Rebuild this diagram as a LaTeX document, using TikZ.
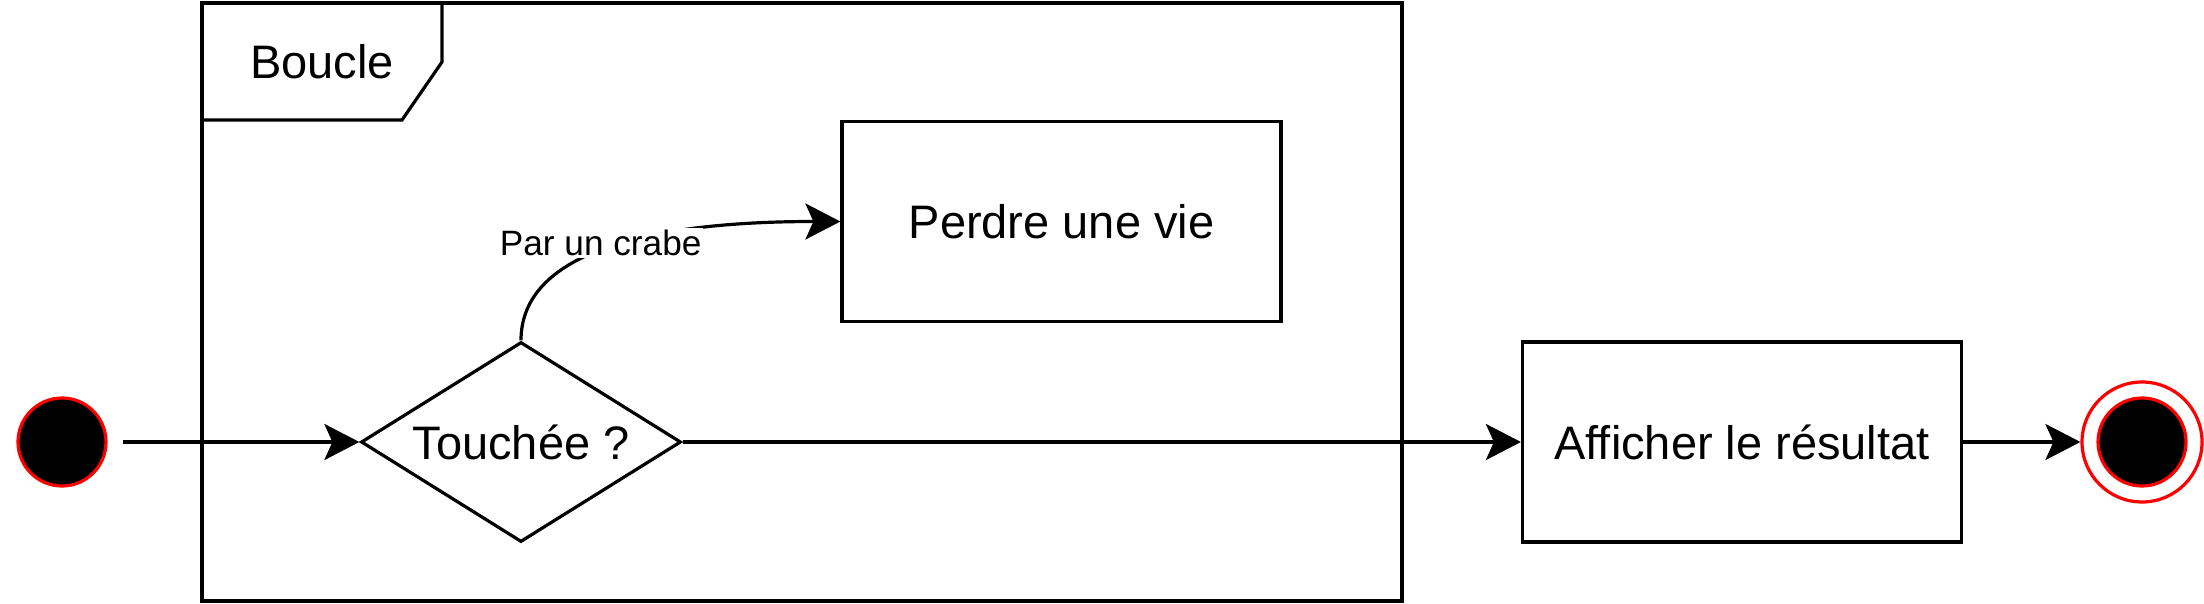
\documentclass[tikz,border=0pt]{standalone}
\usepackage{fontspec}
\setmainfont{Liberation Sans}
\usetikzlibrary{shapes.geometric, arrows.meta}

\begin{document}
\begin{tikzpicture}[x=0.5pt, y=-0.5pt, line width=1.6pt,
    every node/.style={font=\fontsize{23.5}{28}\selectfont},
    action/.style={draw, rectangle, minimum width=219.5pt, minimum height=100pt},
    decision/.style={draw, diamond, shape aspect=1.6, inner sep=0pt, minimum width=160pt, minimum height=100pt},
    startdot/.style={draw=red, fill=black, circle, minimum size=44pt, inner sep=0pt},
    endring/.style={draw=red, fill=white, circle, minimum size=60pt, inner sep=0pt},
    guard/.style={fill=white, inner sep=1pt, font=\fontsize{17.6}{21}\selectfont},
    >={Stealth[length=17.5pt, width=18pt, inset=4pt]}]

    \useasboundingbox (0,0) rectangle (2204,604);

    % the loop frame and its tab
    \draw (202,3) rectangle (1402,601);
    \draw (202,120) -- (402,120) -- (442,62) -- (442,3);
    \node (boucle) at (322,62) {Boucle};

    % the states
    \node[startdot] (start) at (62,442) {}; % initial state
    \node[decision, node distance=229.5pt, right of=start] (touch) {Touchée ?};
    \node[action] (vie) at (1061.5,221.5) {Perdre une vie};
    \node[action, node distance=610.5pt, right of=touch] (result) {Afficher le résultat};
    \node[endring, node distance=200pt, right of=result] (stop) {}; % final state
    \node[startdot] (stopdot) at (stop) {};

    % the transitions
    \path[->]
    (start) edge[shorten <=7.5pt] (touch)
    (touch.north) edge[out=90, in=180, out looseness=0.6, in looseness=1.6] node[guard, yshift=4pt] {Par un crabe} (vie)
    (touch) edge (result)
    (result) edge (stop);
\end{tikzpicture}
\end{document}
